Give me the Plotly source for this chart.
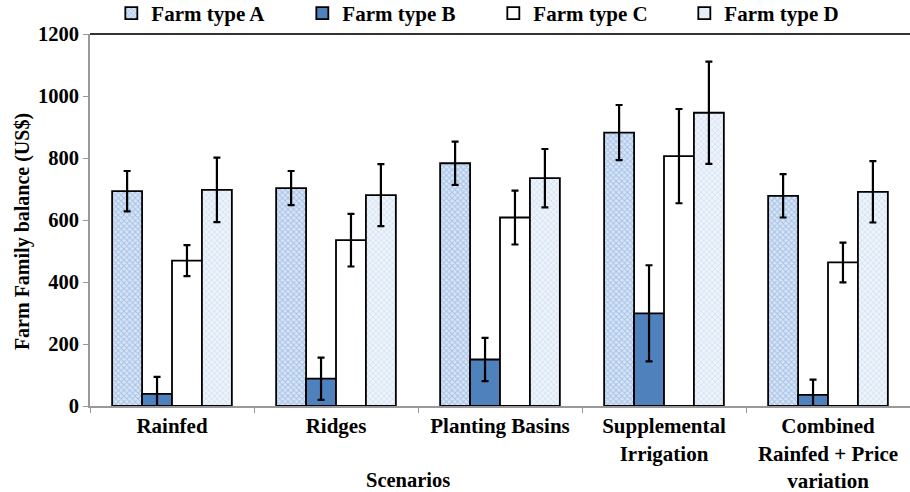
import plotly.graph_objects as go

categories = ["Rainfed", "Ridges", "Planting Basins", "Supplemental<br>Irrigation",
              "Combined<br>Rainfed + Price<br>variation"]
series_names = ["Farm type A", "Farm type B", "Farm type C", "Farm type D"]
vals_A = [693, 703, 783, 882, 678]
err_A = [65, 55, 70, 89, 70]
vals_B = [39, 88, 150, 299, 36]
err_B = [55, 68, 70, 155, 49]
vals_C = [469, 535, 608, 806, 463]
err_C = [50, 85, 87, 152, 64]
vals_D = [697, 680, 735, 946, 691]
err_D = [104, 100, 94, 165, 99]
y_ticks = [0, 200, 400, 600, 800, 1000, 1200]

FONT = "Liberation Serif, Times New Roman, serif"

styles = [
    dict(color="#b3c9e8", pattern=dict(shape="x", size=4, fgcolor="#6e9bd6", bgcolor="#d8e5f6", solidity=0.42)),
    dict(color="#4f81bd"),
    dict(color="#ffffff"),
    dict(color="#d7e3f3", pattern=dict(shape="x", size=4, fgcolor="#bacde9", bgcolor="#edf3fa", solidity=0.35)),
]
data = [(vals_A, err_A), (vals_B, err_B), (vals_C, err_C), (vals_D, err_D)]

fig = go.Figure()
for name, (v, e), st in zip(series_names, data, styles):
    marker = dict(line=dict(color="black", width=1.8))
    marker.update(st)
    fig.add_trace(go.Bar(
        x=categories, y=v, name="<b>" + name + "</b>", marker=marker,
        error_y=dict(type="data", array=e, visible=True, color="black", thickness=2.2, width=3.5),
    ))

fig.update_layout(
    width=910, height=492,
    margin=dict(l=90, r=0, t=34, b=86, autoexpand=False),
    paper_bgcolor="white", plot_bgcolor="white",
    barmode="group", bargap=0.27, bargroupgap=0,
    font=dict(family=FONT, size=20, color="black"),
    legend=dict(orientation="h", x=0.026, xanchor="left", y=1.0, yanchor="bottom",
                font=dict(family=FONT, size=21, color="black"),
                entrywidth=146, entrywidthmode="pixels", itemclick=False,
                tracegroupgap=0, bgcolor="rgba(0,0,0,0)"),
    showlegend=True,
)
fig.update_xaxes(
    showline=True, linecolor="#999999", linewidth=2,
    ticks="outside", tickson="boundaries", ticklen=5, tickcolor="#999999",
    tickfont=dict(family=FONT, size=21, color="black"),
    showgrid=False, automargin=False,
    tickvals=categories, ticktext=["<b>" + c + "</b>" for c in categories],
)
fig.update_yaxes(
    range=[0, 1200],
    showline=True, linecolor="#999999", linewidth=2,
    ticks="outside", ticklen=5, tickcolor="#999999",
    tickfont=dict(family=FONT, size=20.5, color="black"),
    showgrid=False, zeroline=False, automargin=False,
    tickvals=y_ticks, ticktext=["<b>%d</b>" % t for t in y_ticks],
)
fig.add_shape(type="line", xref="paper", yref="paper", x0=0, x1=1, y0=1, y1=1,
              line=dict(color="#333333", width=2))
fig.add_annotation(text="<b>Scenarios</b>", xref="paper", yref="paper",
                   x=0.388, y=-0.199, yanchor="middle", showarrow=False,
                   font=dict(family=FONT, size=20.5, color="black"))
fig.add_annotation(text="<b>Farm Family balance (US$)</b>", xref="paper", yref="paper",
                   x=-0.083, y=0.47, xanchor="center", yanchor="middle", textangle=-90,
                   showarrow=False, font=dict(family=FONT, size=20, color="black"))

fig.write_html("out.html")
